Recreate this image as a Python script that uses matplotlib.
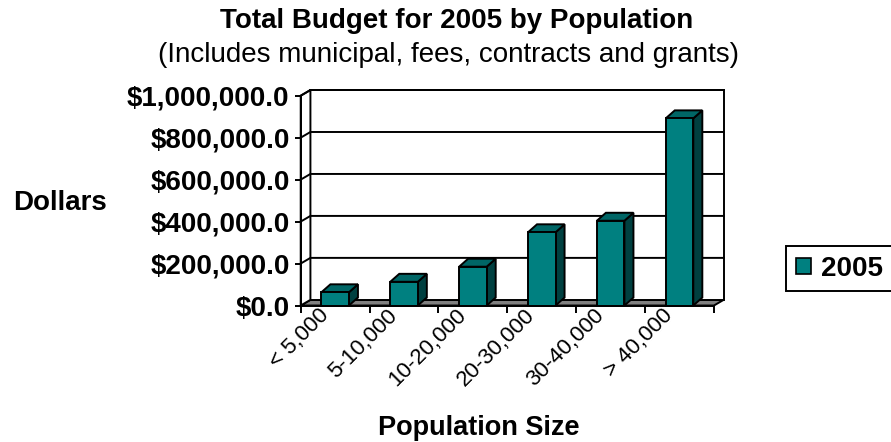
import matplotlib.pyplot as plt
import numpy as np
from matplotlib.patches import Polygon, Rectangle, Patch
from matplotlib.ticker import FuncFormatter
from matplotlib.transforms import ScaledTranslation

plt.rcParams['font.family'] = ['Liberation Sans', 'DejaVu Sans']

categories = ['< 5,000', '5-10,000', '10-20,000', '20-30,000', '30-40,000', '> 40,000']
budget_2005 = [63000, 113000, 185000, 349000, 404000, 892000]
y_ticks = [0, 200000, 400000, 600000, 800000, 1000000]

front = '#008080'
top_col = '#006666'
side_col = '#004040'
floor_col = '#808080'
lw = 1.4

fig = plt.figure(figsize=(8.91, 4.42), dpi=100)
ax = fig.add_axes([0.3375, 0.3088, 0.4638, 0.4747])
ax.set_xlim(0, 6)
ax.set_ylim(0, 1000000)

# depth offsets (data units) for the walls and for the columns
wdx, wdy = 0.141, 27000
bdx, bdy = 0.131, 38000
bw = 0.40

# floor
ax.add_patch(Polygon([(0, 0), (6, 0), (6 + wdx, wdy), (wdx, wdy)],
                     facecolor=floor_col, edgecolor='black', lw=lw, clip_on=False, zorder=1))
# back wall and side wall
ax.add_patch(Rectangle((wdx, wdy), 6, 1000000, facecolor='white', edgecolor='black',
                       lw=lw, clip_on=False, zorder=1))
ax.add_patch(Polygon([(0, 0), (wdx, wdy), (wdx, 1000000 + wdy), (0, 1000000)],
                     facecolor='white', edgecolor='black', lw=lw, clip_on=False, zorder=1))
# gridlines across side and back walls
for v in y_ticks[1:]:
    ax.plot([0, wdx, 6 + wdx], [v, v + wdy, v + wdy], color='black', lw=lw,
            clip_on=False, zorder=2)

# columns
for i, v in enumerate(budget_2005):
    x0 = i + 0.5 - bw / 2
    x1 = x0 + bw
    ax.add_patch(Polygon([(x1, 0), (x1 + bdx, bdy), (x1 + bdx, v + bdy), (x1, v)],
                         facecolor=side_col, edgecolor='black', lw=lw, clip_on=False, zorder=3))
    ax.add_patch(Polygon([(x0, v), (x1, v), (x1 + bdx, v + bdy), (x0 + bdx, v + bdy)],
                         facecolor=top_col, edgecolor='black', lw=lw, clip_on=False, zorder=3))
    ax.add_patch(Rectangle((x0, 0), bw, v, facecolor=front, edgecolor='black',
                           lw=lw, clip_on=False, zorder=4))

for s in ['top', 'right']:
    ax.spines[s].set_visible(False)
for s in ['left', 'bottom']:
    ax.spines[s].set_linewidth(lw)
    ax.spines[s].set_zorder(5)

ax.set_yticks(y_ticks)
ax.yaxis.set_major_formatter(FuncFormatter(lambda v, p: f'${v:,.1f}'))
ax.tick_params(axis='y', direction='out', length=4, width=lw, pad=4,
               labelsize=20)
for lab in ax.get_yticklabels():
    lab.set_fontweight('bold')

ax.set_xticks(np.arange(0, 7))
ax.set_xticklabels([])
ax.set_xticks(np.arange(6) + 0.5, minor=True)
ax.set_xticklabels(categories, minor=True, rotation=45, ha='right', va='center',
                   rotation_mode='anchor', fontsize=16)
ax.tick_params(axis='x', which='major', direction='out', length=5, width=lw)
ax.tick_params(axis='x', which='minor', length=0, pad=5)
shift = ScaledTranslation(-7 / 72, 0, fig.dpi_scale_trans)
for lab in ax.get_xticklabels(minor=True):
    lab.set_transform(lab.get_transform() + shift)

fig.text(0.5124, 0.936, 'Total Budget for 2005 by Population', ha='center',
         va='baseline', fontsize=20, fontweight='bold')
fig.text(0.5034, 0.860, '(Includes municipal, fees, contracts and grants)',
         ha='center', va='baseline', fontsize=20)
fig.text(0.015, 0.525, 'Dollars', ha='left', va='baseline', fontsize=20,
         fontweight='bold')
fig.text(0.5378, 0.016, 'Population Size', ha='center', va='baseline',
         fontsize=19.5, fontweight='bold')

leg = fig.legend(handles=[Patch(facecolor=front, edgecolor='black', lw=1.2, label='2005')],
                 loc='upper left', bbox_to_anchor=(786 / 891, 1 - 246 / 442),
                 borderaxespad=0, fancybox=False, edgecolor='black', framealpha=1,
                 handlelength=0.55, handleheight=0.55, handletextpad=0.35,
                 borderpad=0.35, prop={'size': 20, 'weight': 'bold'})
leg.get_frame().set_linewidth(lw)

fig.savefig('out.png', dpi=100)
